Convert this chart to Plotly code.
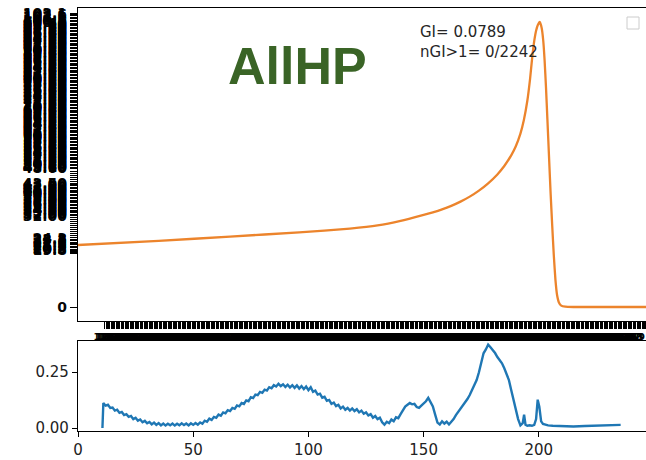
import numpy as np
import plotly.graph_objects as go

# ---- depth-dose profile (upper panel) ----
depth = [0.0, 35.0, 66.0, 96.0, 118.0, 130.0, 140.0, 150.0, 154.0, 158.0,
         162.0, 166.0, 170.0, 174.0, 178.0, 182.0, 185.0, 188.0, 190.0, 192.0,
         193.5, 195.0, 196.2, 197.2, 198.0, 198.8, 199.6, 200.4, 201.2, 201.9,
         202.5, 203.1, 203.7, 204.4, 205.1, 205.8, 206.5, 207.2, 207.9, 208.7,
         209.7, 211.5, 215.0, 246.5]
dose = [21.75, 23.2, 24.7, 26.2, 27.5, 28.6, 30.2, 32.3, 33.2, 34.24,
        35.48, 36.96, 38.72, 40.84, 43.4, 46.52, 49.46, 53.21, 56.41, 60.81,
        65.6, 72.35, 80.15, 88.15, 93.35, 96.95, 99.03, 100.0, 98.0, 93.5,
        86.5, 77.0, 66.0, 53.0, 40.0, 28.5, 18.0, 9.5, 4.2, 1.6,
        0.5, 0.1, 0.0, 0.0]

# ---- gamma index along depth (lower panel) ----
gamma_head_x = [10.6]
gamma_head = [0.0]
gamma_main = [
    0.112, 0.100, 0.104, 0.090, 0.092, 0.078, 0.082, 0.068, 0.072, 0.058,   # 11-20
    0.062, 0.050, 0.054, 0.040, 0.046, 0.033, 0.038, 0.026, 0.032, 0.021,   # 21-30
    0.027, 0.016, 0.024, 0.014, 0.022, 0.012, 0.020, 0.011, 0.019, 0.012,   # 31-40
    0.020, 0.011, 0.019, 0.012, 0.021, 0.013, 0.020, 0.012, 0.021, 0.014,   # 41-50
    0.022, 0.015, 0.025, 0.019, 0.033, 0.028, 0.042, 0.036, 0.050, 0.046,   # 51-60
    0.060, 0.055, 0.070, 0.066, 0.080, 0.076, 0.090, 0.086, 0.101, 0.097,   # 61-70
    0.112, 0.108, 0.124, 0.120, 0.138, 0.134, 0.150, 0.147, 0.162, 0.158,   # 71-80
    0.172, 0.168, 0.183, 0.178, 0.192, 0.186, 0.198, 0.188, 0.196, 0.184,   # 81-90
    0.194, 0.182, 0.192, 0.180, 0.191, 0.177, 0.188, 0.174, 0.186, 0.170,   # 91-100
    0.183, 0.162, 0.168, 0.150, 0.154, 0.136, 0.140, 0.122, 0.126, 0.108,   # 101-110
    0.114, 0.098, 0.104, 0.088, 0.096, 0.082, 0.090, 0.078, 0.088, 0.076,   # 111-120
    0.084, 0.070, 0.078, 0.064, 0.070, 0.056, 0.062, 0.046, 0.054, 0.040,   # 121-130
    0.046, 0.026, 0.015, 0.028, 0.022, 0.038, 0.030, 0.048, 0.044, 0.062,   # 131-140
    0.078, 0.096, 0.104, 0.112, 0.106, 0.108, 0.094, 0.090, 0.100, 0.110,   # 141-150
    0.120, 0.135, 0.112, 0.097, 0.060, 0.024, 0.016, 0.030, 0.020, 0.028,   # 151-160
    0.016, 0.026, 0.040, 0.058, 0.072, 0.086, 0.102, 0.114, 0.130, 0.148,   # 161-170
    0.168, 0.192, 0.215, 0.250, 0.295, 0.335, 0.352, 0.374, 0.362, 0.350,   # 171-180
    0.336, 0.318, 0.304, 0.290, 0.268, 0.245, 0.215, 0.170, 0.125, 0.085,   # 181-190
    0.040, 0.012, 0.022,                                                    # 191-193
]
gamma_main_x = list(range(11, 11 + len(gamma_main)))
gamma_tail_x = [193.6, 194.2, 195, 196, 197, 198, 198.8, 199.5, 200.2, 201,
                201.8, 203, 204, 206, 210, 215, 220, 225, 230, 235.5]
gamma_tail = [0.060, 0.015, 0.010, 0.012, 0.010, 0.014, 0.040, 0.127, 0.095, 0.030,
              0.018, 0.014, 0.012, 0.010, 0.008, 0.007, 0.009, 0.011, 0.013, 0.014]

gamma_x = gamma_head_x + gamma_main_x + gamma_tail_x
gamma = gamma_head + gamma_main + gamma_tail

gi_value = "0.0789"
gi_fail = "0/2242"
title = "AllHP"

# ---- crowded category tick labels of the upper panel ----
ytick_hi = np.arange(48.6, 103.6, 0.5)
ytick_mid = np.arange(32.0, 43.8, 0.5)
ytick_lo = np.arange(19.8, 24.8, 0.5)
ytick_gap = np.concatenate([np.arange(44.2, 48.4, 0.7), np.arange(25.2, 31.8, 0.7),
                            np.arange(18.6, 19.7, 0.5)])
ytick_vals = list(ytick_hi) + list(ytick_mid) + list(ytick_lo) + list(ytick_gap) + [0.0]
ytick_text = ([f"{v:.1f}" if v >= 100 else f"{v:.2f}" for v in ytick_hi]
              + [f"{v:.2f}" for v in ytick_mid]
              + [f"{v:.1f}" for v in ytick_lo]
              + ["" for _ in ytick_gap] + ["0"])

xtick_vals = list(np.arange(11.6, 247.0, 0.55))
xtick_text = [f"{v:.1f}" for v in xtick_vals]

fig = go.Figure()
fig.add_trace(go.Scatter(x=depth, y=dose, mode="lines",
                         line=dict(color="#ec842c", width=2.3, shape="spline", smoothing=0.4),
                         xaxis="x", yaxis="y", showlegend=False, hoverinfo="skip"))
fig.add_trace(go.Scatter(x=gamma_x, y=gamma, mode="lines",
                         line=dict(color="#1f77b4", width=2.4),
                         xaxis="x2", yaxis="y2", showlegend=False, hoverinfo="skip"))

W, H = 646, 460
L, R, T, B = 78, 0, 8, 29
plot_h = H - T - B
plot_w = W - L - R


def px_x(px):
    return (px - L) / plot_w


def px_y(py):
    return (H - B - py) / plot_h


axis_font = dict(family="DejaVu Sans", size=15, color="#222222")
crowded_font_y = dict(family="DejaVu Sans", size=14, color="rgba(0,0,0,0.97)", weight="bold")
crowded_font_x = dict(family="DejaVu Sans", size=9, color="rgba(0,0,0,0.97)", weight="bold")

fig.update_layout(
    width=W, height=H,
    margin=dict(l=L, r=R, t=T, b=B, pad=0),
    paper_bgcolor="white", plot_bgcolor="white",
    showlegend=False,
    xaxis=dict(domain=[0, 1], anchor="y", range=[0, 246.5],
               tickmode="array", tickvals=xtick_vals, ticktext=xtick_text,
               ticks="outside", ticklen=7, tickwidth=1, tickcolor="black",
               tickangle=0, tickfont=crowded_font_x,
               showline=True, linecolor="black", linewidth=1.3, mirror=True,
               showgrid=False, zeroline=False, automargin=False),
    yaxis=dict(domain=[px_y(321), 1], anchor="x", range=[-4.91, 104.9],
               tickmode="array", tickvals=ytick_vals, ticktext=ytick_text,
               ticks="outside", ticklen=7, tickwidth=1, tickcolor="black",
               tickfont=crowded_font_y,
               showline=True, linecolor="black", linewidth=1.3, mirror=False,
               showgrid=False, zeroline=False, automargin=False),
    xaxis2=dict(domain=[0, 1], anchor="y2", range=[0, 246.5],
                tickmode="array", tickvals=[0, 50, 100, 150, 200],
                ticktext=["0", "50", "100", "150", "200"],
                ticks="outside", ticklen=5, tickwidth=1, tickcolor="black",
                tickfont=axis_font,
                showline=True, linecolor="black", linewidth=1.3, mirror=True,
                showgrid=False, zeroline=False, automargin=False),
    yaxis2=dict(domain=[0, px_y(341)], anchor="x2", range=[-0.0134, 0.39],
                tickmode="array", tickvals=[0, 0.25], ticktext=["0.00", "0.25"],
                ticks="outside", ticklen=5, tickwidth=1, tickcolor="black",
                tickfont=axis_font,
                showline=True, linecolor="black", linewidth=1.3, mirror=False,
                showgrid=False, zeroline=False, automargin=False),
    annotations=[
        dict(text=f"<b>{title}</b>", x=px_x(297), y=px_y(66), xref="paper", yref="paper",
             xanchor="center", yanchor="middle", showarrow=False,
             font=dict(family="Liberation Sans", size=52, color="#3a6426")),
        dict(text=f"GI= {gi_value}<br>nGI&gt;1= {gi_fail}", x=px_x(419), y=px_y(22),
             xref="paper", yref="paper", xanchor="left", yanchor="top", align="left",
             showarrow=False, borderpad=0,
             font=dict(family="DejaVu Sans", size=15, color="#262626")),
    ],
    shapes=[
        dict(type="rect", xref="paper", yref="paper",
             x0=px_x(627), x1=px_x(639), y0=px_y(29), y1=px_y(17),
             line=dict(color="#cccccc", width=1), fillcolor="white"),
    ],
)

fig.write_html("out.html")
